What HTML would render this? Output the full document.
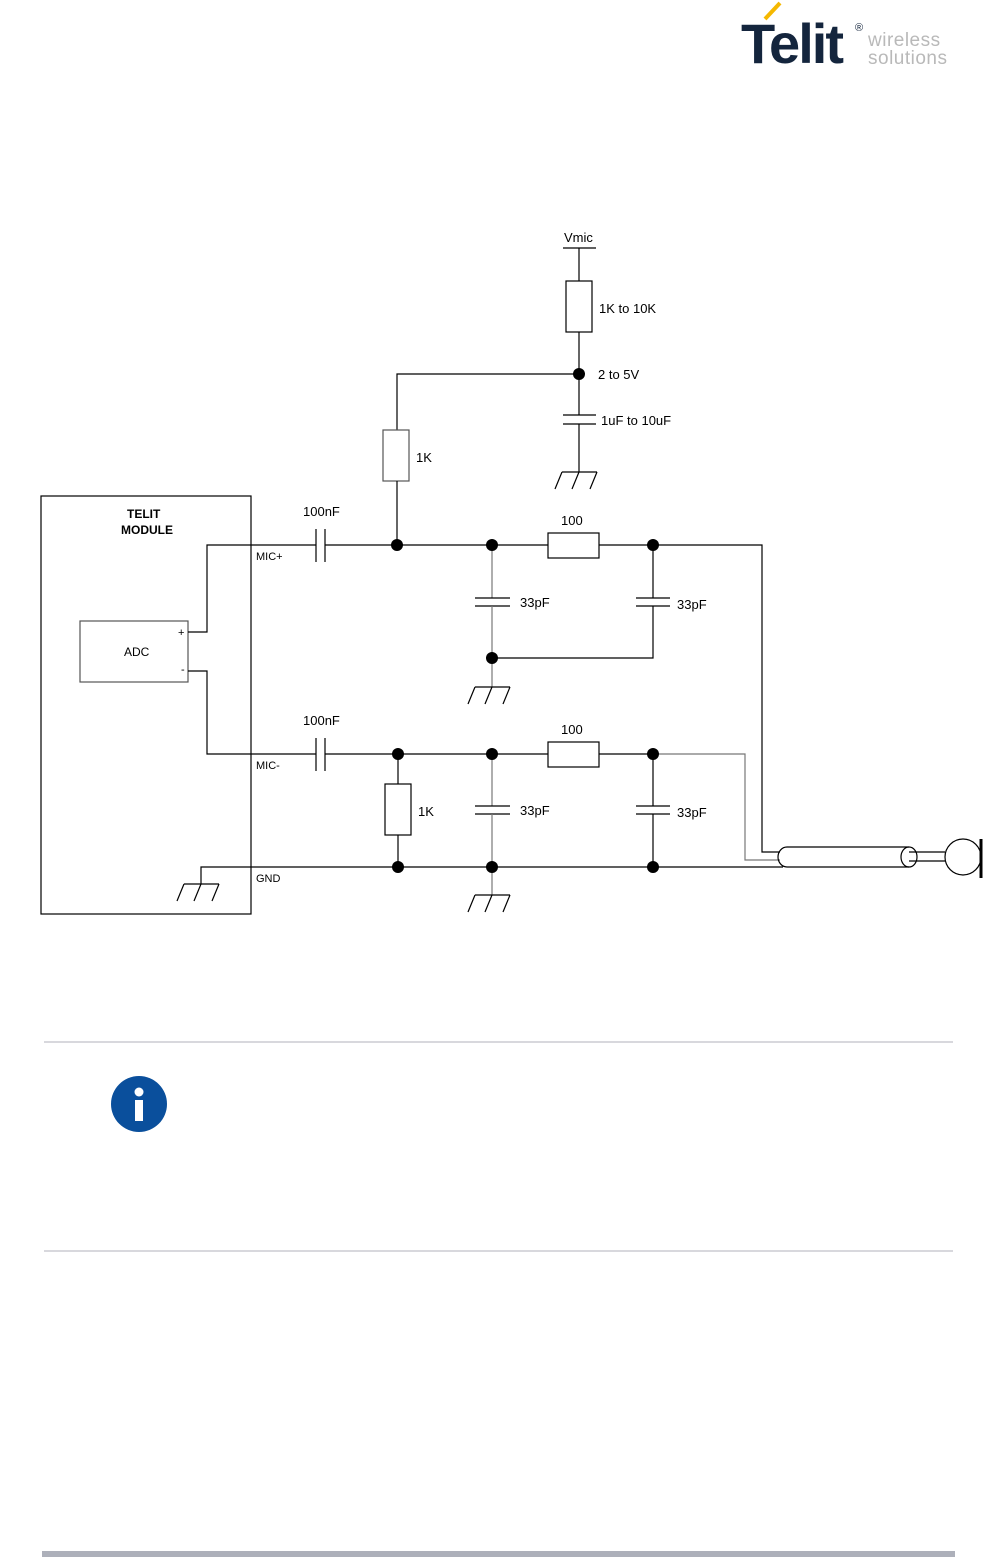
<!DOCTYPE html>
<html><head><meta charset="utf-8"><style>
html,body{margin:0;padding:0;background:#fff;}
svg{display:block;}
</style></head><body>
<svg width="998" height="1557" viewBox="0 0 998 1557" xmlns="http://www.w3.org/2000/svg" font-family="Liberation Sans, sans-serif">
<defs>
<g id="gnd" stroke="#000" stroke-width="1.2" fill="none">
<line x1="-17" y1="0" x2="18" y2="0"/>
<line x1="-17" y1="0" x2="-24" y2="17"/>
<line x1="0" y1="0" x2="-7" y2="17"/>
<line x1="18" y1="0" x2="11" y2="17"/>
</g>
</defs>
<!-- logo -->
<line x1="765" y1="19" x2="780" y2="3" stroke="#f5b800" stroke-width="4"/>
<text x="741" y="63" font-size="56" font-weight="bold" fill="#14253d" letter-spacing="-2">Telit</text>
<text x="855" y="31" font-size="11" fill="#14253d">®</text>
<text x="868" y="46" font-size="19" fill="#b9b9b9" letter-spacing="0.5">wireless</text>
<text x="868" y="64" font-size="19" fill="#b9b9b9" letter-spacing="0.5">solutions</text>

<g stroke="#000" stroke-width="1.2" fill="none">
<!-- module -->
<rect x="41" y="496" width="210" height="418"/>
<rect x="80" y="621" width="108" height="61" stroke="#555"/>
<polyline points="188,632 207,632 207,545 316,545"/>
<polyline points="188,671 207,671 207,754 316,754"/>
<polyline points="201,884 201,867 398,867"/>
<!-- 100nF caps -->
<line x1="316" y1="529" x2="316" y2="562"/><line x1="325" y1="529" x2="325" y2="562"/>
<line x1="316" y1="738" x2="316" y2="771"/><line x1="325" y1="738" x2="325" y2="771"/>
<line x1="325" y1="545" x2="548" y2="545"/>
<line x1="599" y1="545" x2="653" y2="545"/>
<polyline points="653,545 762,545 762,852 780,852"/>
<line x1="325" y1="754" x2="548" y2="754"/>
<line x1="599" y1="754" x2="653" y2="754"/>
<polyline points="653,754 745,754 745,860 780,860" stroke="#777"/>
<line x1="398" y1="867" x2="783" y2="867"/>
<rect x="548" y="533" width="51" height="25"/>
<rect x="548" y="742" width="51" height="25"/>
<!-- Vmic chain -->
<line x1="563" y1="248" x2="596" y2="248"/>
<line x1="579" y1="248" x2="579" y2="281"/>
<rect x="566" y="281" width="26" height="51"/>
<line x1="579" y1="332" x2="579" y2="415"/>
<line x1="563" y1="415" x2="596" y2="415"/><line x1="563" y1="424" x2="596" y2="424"/>
<line x1="579" y1="424" x2="579" y2="472"/>
<polyline points="579,374 397,374 397,430"/>
<rect x="383" y="430" width="26" height="51" stroke="#555"/>
<line x1="397" y1="481" x2="397" y2="545"/>
<!-- upper caps -->
<line x1="492" y1="545" x2="492" y2="598" stroke="#777"/>
<line x1="475" y1="598" x2="510" y2="598"/><line x1="475" y1="606" x2="510" y2="606"/>
<line x1="492" y1="606" x2="492" y2="687" stroke="#777"/>
<line x1="653" y1="545" x2="653" y2="598"/>
<line x1="636" y1="598" x2="670" y2="598"/><line x1="636" y1="606" x2="670" y2="606"/>
<polyline points="653,606 653,658 492,658"/>
<!-- lower -->
<line x1="398" y1="754" x2="398" y2="784"/>
<rect x="385" y="784" width="26" height="51"/>
<line x1="398" y1="835" x2="398" y2="867"/>
<line x1="492" y1="754" x2="492" y2="806" stroke="#777"/>
<line x1="475" y1="806" x2="510" y2="806"/><line x1="475" y1="814" x2="510" y2="814"/>
<line x1="492" y1="814" x2="492" y2="895" stroke="#777"/>
<line x1="653" y1="754" x2="653" y2="806"/>
<line x1="636" y1="806" x2="670" y2="806"/><line x1="636" y1="814" x2="670" y2="814"/>
<line x1="653" y1="814" x2="653" y2="867"/>
<!-- cable -->
<path d="M787,847 L909,847 M787,867 L909,867 M787,847 A9,10 0 0 0 787,867"/>
<ellipse cx="909" cy="857" rx="8" ry="10"/>
<line x1="909" y1="852" x2="945" y2="852"/><line x1="909" y1="861" x2="945" y2="861"/>
<circle cx="963" cy="857" r="18"/>
</g>
<line x1="981" y1="839" x2="981" y2="878" stroke="#000" stroke-width="3"/>
<use href="#gnd" x="579" y="472"/>
<use href="#gnd" x="492" y="687"/>
<use href="#gnd" x="492" y="895"/>
<use href="#gnd" x="201" y="884"/>
<g fill="#000">
<circle cx="579" cy="374" r="6"/>
<circle cx="397" cy="545" r="6"/><circle cx="492" cy="545" r="6"/><circle cx="653" cy="545" r="6"/>
<circle cx="492" cy="658" r="6"/>
<circle cx="398" cy="754" r="6"/><circle cx="492" cy="754" r="6"/><circle cx="653" cy="754" r="6"/>
<circle cx="398" cy="867" r="6"/><circle cx="492" cy="867" r="6"/><circle cx="653" cy="867" r="6"/>
</g>
<g font-size="13" fill="#000">
<text x="564" y="242">Vmic</text>
<text x="599" y="313">1K to 10K</text>
<text x="598" y="379">2 to 5V</text>
<text x="601" y="425">1uF to 10uF</text>
<text x="416" y="462">1K</text>
<text x="303" y="516">100nF</text>
<text x="303" y="725">100nF</text>
<text x="561" y="525">100</text>
<text x="561" y="734">100</text>
<text x="520" y="607">33pF</text>
<text x="677" y="609">33pF</text>
<text x="520" y="815">33pF</text>
<text x="677" y="817">33pF</text>
<text x="418" y="816">1K</text>
<text x="124" y="656" font-size="12">ADC</text>
<text x="178" y="636" font-size="11">+</text>
<text x="181" y="673" font-size="11">-</text>
<text x="256" y="560" font-size="11">MIC+</text>
<text x="256" y="769" font-size="11">MIC-</text>
<text x="256" y="882" font-size="11">GND</text>
<text x="127" y="518" font-size="12" font-weight="bold">TELIT</text>
<text x="121" y="534" font-size="12" font-weight="bold">MODULE</text>
</g>
<!-- info section -->
<line x1="44" y1="1042" x2="953" y2="1042" stroke="#b0b2bb" stroke-width="1"/>
<line x1="44" y1="1251" x2="953" y2="1251" stroke="#b0b2bb" stroke-width="1"/>
<circle cx="139" cy="1104" r="28" fill="#0a4f9c"/>
<circle cx="139" cy="1092" r="4.5" fill="#fff"/>
<rect x="135" y="1100" width="8" height="21" fill="#fff"/>
<rect x="42" y="1551" width="913" height="6" fill="#adb0ba"/>
</svg>
</body></html>
